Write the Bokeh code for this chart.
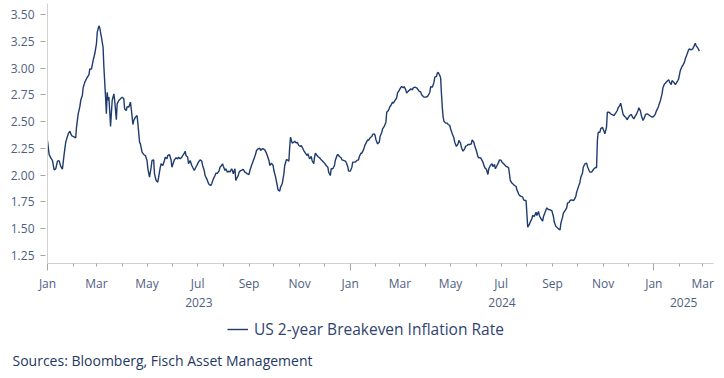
import pandas as pd
from bokeh.plotting import figure
from bokeh.layouts import column
from bokeh.models import (Range1d, FixedTicker, LinearAxis, NumeralTickFormatter,
                          Legend, LegendItem, Title, ColumnDataSource)
from bokeh.embed import file_html
from bokeh.resources import INLINE

# ---------------- data ----------------
dates = [
    # 2023
    "2023-01-01","2023-01-03","2023-01-05","2023-01-07","2023-01-09","2023-01-11","2023-01-13","2023-01-15",
    "2023-01-17","2023-01-19","2023-01-21","2023-01-23","2023-01-26","2023-01-28","2023-01-30",
    "2023-02-01","2023-02-04","2023-02-05","2023-02-07","2023-02-09","2023-02-10","2023-02-12","2023-02-13",
    "2023-02-15","2023-02-17","2023-02-20","2023-02-21","2023-02-23","2023-02-25","2023-02-27",
    "2023-03-01","2023-03-02","2023-03-04","2023-03-05","2023-03-07","2023-03-09","2023-03-10","2023-03-12",
    "2023-03-13","2023-03-14","2023-03-15","2023-03-16","2023-03-17","2023-03-18","2023-03-20","2023-03-22",
    "2023-03-23","2023-03-25","2023-03-26","2023-03-28","2023-03-30",
    "2023-04-01","2023-04-03","2023-04-04","2023-04-06","2023-04-07","2023-04-09","2023-04-11","2023-04-12",
    "2023-04-14","2023-04-15","2023-04-17","2023-04-19","2023-04-20","2023-04-22","2023-04-23","2023-04-25",
    "2023-04-27","2023-04-29",
    "2023-05-01","2023-05-02","2023-05-04","2023-05-06","2023-05-07","2023-05-09","2023-05-10","2023-05-12",
    "2023-05-14","2023-05-15","2023-05-17","2023-05-18","2023-05-20","2023-05-22","2023-05-23","2023-05-25",
    "2023-05-26","2023-05-28","2023-05-30","2023-05-31",
    "2023-06-02","2023-06-03","2023-06-05","2023-06-07","2023-06-08","2023-06-10","2023-06-12","2023-06-13",
    "2023-06-15","2023-06-16","2023-06-17","2023-06-19","2023-06-20","2023-06-22","2023-06-24","2023-06-25",
    "2023-06-27","2023-06-28","2023-06-30",
    "2023-07-02","2023-07-04","2023-07-06","2023-07-07","2023-07-09","2023-07-10","2023-07-12","2023-07-14",
    "2023-07-15","2023-07-17","2023-07-18","2023-07-20","2023-07-22","2023-07-23","2023-07-25","2023-07-27",
    "2023-07-28","2023-07-30","2023-07-31",
    "2023-08-01","2023-08-03","2023-08-04","2023-08-06","2023-08-08","2023-08-09","2023-08-11","2023-08-12",
    "2023-08-13","2023-08-15","2023-08-16","2023-08-19","2023-08-20","2023-08-22","2023-08-24","2023-08-25",
    "2023-08-27","2023-08-29","2023-08-30",
    "2023-09-01","2023-09-02","2023-09-04","2023-09-06","2023-09-07","2023-09-09","2023-09-10","2023-09-12",
    "2023-09-14","2023-09-15","2023-09-17","2023-09-18","2023-09-20","2023-09-22","2023-09-23","2023-09-25",
    "2023-09-26","2023-09-28","2023-09-30",
    "2023-10-01","2023-10-03","2023-10-05","2023-10-06","2023-10-08","2023-10-09","2023-10-11","2023-10-13",
    "2023-10-14","2023-10-16","2023-10-17","2023-10-19","2023-10-20","2023-10-21","2023-10-23","2023-10-25",
    "2023-10-26","2023-10-28","2023-10-29","2023-10-31",
    "2023-11-02","2023-11-03","2023-11-05","2023-11-06","2023-11-08","2023-11-10","2023-11-11","2023-11-13",
    "2023-11-15","2023-11-16","2023-11-18","2023-11-19","2023-11-20","2023-11-22","2023-11-23","2023-11-25",
    "2023-11-27","2023-11-28","2023-11-30",
    "2023-12-01","2023-12-03","2023-12-05","2023-12-06","2023-12-08","2023-12-09","2023-12-11","2023-12-13",
    "2023-12-14","2023-12-16","2023-12-17","2023-12-19","2023-12-21","2023-12-22","2023-12-24","2023-12-26",
    "2023-12-27","2023-12-29","2023-12-30",
    # 2024
    "2024-01-01","2024-01-03","2024-01-04","2024-01-06","2024-01-07","2024-01-09","2024-01-11","2024-01-12",
    "2024-01-14","2024-01-15","2024-01-17","2024-01-19","2024-01-20","2024-01-22","2024-01-23","2024-01-25",
    "2024-01-27","2024-01-28","2024-01-30","2024-01-31",
    "2024-02-01","2024-02-03","2024-02-05","2024-02-06","2024-02-08","2024-02-09","2024-02-11","2024-02-13",
    "2024-02-14","2024-02-16","2024-02-18","2024-02-19","2024-02-21","2024-02-22","2024-02-24","2024-02-26",
    "2024-02-27","2024-02-29",
    "2024-03-01","2024-03-03","2024-03-05","2024-03-06","2024-03-08","2024-03-09","2024-03-11","2024-03-13",
    "2024-03-14","2024-03-16","2024-03-17","2024-03-19","2024-03-21","2024-03-22","2024-03-24","2024-03-26",
    "2024-03-27","2024-03-29","2024-03-30",
    "2024-04-01","2024-04-03","2024-04-04","2024-04-06","2024-04-07","2024-04-09","2024-04-11","2024-04-12",
    "2024-04-14","2024-04-15","2024-04-16","2024-04-18","2024-04-19","2024-04-20","2024-04-21","2024-04-22",
    "2024-04-23","2024-04-25","2024-04-27","2024-04-28","2024-04-30",
    "2024-05-01","2024-05-03","2024-05-05","2024-05-06","2024-05-08","2024-05-10","2024-05-11","2024-05-13",
    "2024-05-14","2024-05-16","2024-05-18","2024-05-19","2024-05-21","2024-05-22","2024-05-24","2024-05-26",
    "2024-05-27","2024-05-29","2024-05-30",
    "2024-06-01","2024-06-03","2024-06-04","2024-06-06","2024-06-07","2024-06-09","2024-06-11","2024-06-12",
    "2024-06-13","2024-06-15","2024-06-16","2024-06-18","2024-06-20","2024-06-21","2024-06-23","2024-06-24",
    "2024-06-26","2024-06-28","2024-06-29",
    "2024-07-01","2024-07-02","2024-07-04","2024-07-06","2024-07-07","2024-07-09","2024-07-10","2024-07-12",
    "2024-07-14","2024-07-15","2024-07-17","2024-07-19","2024-07-20","2024-07-22","2024-07-23","2024-07-25",
    "2024-07-27","2024-07-28","2024-07-30","2024-07-31",
    "2024-08-01","2024-08-02","2024-08-04","2024-08-05","2024-08-07","2024-08-08","2024-08-10","2024-08-12",
    "2024-08-13","2024-08-15","2024-08-16","2024-08-18","2024-08-20","2024-08-21","2024-08-23","2024-08-25",
    "2024-08-26","2024-08-28","2024-08-29","2024-08-31",
    "2024-09-02","2024-09-03","2024-09-05","2024-09-06","2024-09-08","2024-09-10","2024-09-11","2024-09-13",
    "2024-09-14","2024-09-16","2024-09-18","2024-09-19","2024-09-21","2024-09-22","2024-09-24","2024-09-26",
    "2024-09-27","2024-09-29","2024-09-30",
    "2024-10-02","2024-10-04","2024-10-05","2024-10-07","2024-10-08","2024-10-10","2024-10-12","2024-10-13",
    "2024-10-15","2024-10-16","2024-10-18","2024-10-20","2024-10-21","2024-10-23","2024-10-24","2024-10-25",
    "2024-10-26","2024-10-28","2024-10-29","2024-10-31",
    "2024-11-02","2024-11-03","2024-11-05","2024-11-06","2024-11-08","2024-11-10","2024-11-11","2024-11-13",
    "2024-11-14","2024-11-16","2024-11-18","2024-11-19","2024-11-21","2024-11-22","2024-11-23","2024-11-25",
    "2024-11-27","2024-11-28","2024-11-30",
    "2024-12-01","2024-12-03","2024-12-05","2024-12-06","2024-12-08","2024-12-09","2024-12-11","2024-12-13",
    "2024-12-14","2024-12-16","2024-12-17","2024-12-19","2024-12-21","2024-12-22","2024-12-24","2024-12-25",
    "2024-12-27","2024-12-29","2024-12-30",
    # 2025
    "2025-01-01","2025-01-03","2025-01-04","2025-01-06","2025-01-07","2025-01-09","2025-01-11","2025-01-12",
    "2025-01-14","2025-01-15","2025-01-17","2025-01-19","2025-01-20","2025-01-22","2025-01-23","2025-01-25",
    "2025-01-27","2025-01-28","2025-01-30","2025-01-31",
    "2025-02-02","2025-02-04","2025-02-05","2025-02-07","2025-02-08","2025-02-10","2025-02-12","2025-02-13",
    "2025-02-15","2025-02-17","2025-02-18","2025-02-20","2025-02-21","2025-02-23","2025-02-25",
]

breakeven = [
    # 2023
    2.32,2.19,2.16,2.135,2.048,2.06,2.129,2.135,
    2.08,2.054,2.19,2.307,2.385,2.41,2.369,
    2.36,2.348,2.447,2.572,2.64,2.696,2.743,2.815,
    2.868,2.9,2.939,2.992,2.99,3.07,3.133,
    3.226,3.335,3.394,3.376,3.288,3.194,3.007,2.728,
    2.572,2.774,2.697,2.728,2.603,2.454,2.697,2.759,
    2.697,2.516,2.665,2.697,2.712,
    2.728,2.712,2.619,2.603,2.64,2.634,2.681,2.619,
    2.472,2.51,2.541,2.556,2.478,2.307,2.291,2.214,
    2.192,2.182,
    2.136,2.058,1.98,2.073,2.136,2.142,2.011,1.949,
    1.933,1.98,2.073,2.105,2.089,2.136,2.167,2.151,
    2.182,2.192,2.142,2.073,
    2.12,2.142,2.161,2.151,2.167,2.151,2.167,2.182,
    2.204,2.223,2.182,2.167,2.105,2.136,2.089,2.073,
    2.042,2.058,2.089,
    2.12,2.142,2.13,2.089,2.042,1.995,1.964,1.924,
    1.911,1.902,1.918,1.964,1.995,2.017,2.017,2.042,
    2.073,2.089,2.105,
    2.083,2.042,2.058,2.027,2.036,2.027,2.058,2.042,
    2.011,2.058,1.95,1.995,2.027,2.042,2.049,2.052,
    2.027,2.017,2.011,
    2.005,2.042,2.089,2.13,2.151,2.198,2.229,2.245,
    2.251,2.229,2.245,2.245,2.235,2.204,2.182,2.136,
    2.089,2.111,2.089,
    2.042,1.98,1.902,1.861,1.849,1.887,1.918,2.011,
    2.089,2.142,2.142,2.13,2.26,2.354,2.298,2.307,
    2.316,2.298,2.307,2.276,
    2.267,2.276,2.245,2.229,2.204,2.182,2.198,2.151,
    2.173,2.136,2.105,2.167,2.204,2.182,2.173,2.161,
    2.142,2.136,2.12,
    2.111,2.089,2.073,2.027,1.995,2.058,2.058,2.089,
    2.136,2.182,2.192,2.173,2.161,2.142,2.136,2.13,
    2.12,2.08,2.036,
    # 2024
    2.036,2.073,2.12,2.12,2.12,2.136,2.142,2.173,
    2.204,2.204,2.235,2.285,2.298,2.329,2.323,2.348,
    2.36,2.379,2.385,2.37,
    2.33,2.291,2.307,2.36,2.4,2.432,2.454,2.494,
    2.587,2.603,2.64,2.65,2.681,2.671,2.697,2.721,
    2.765,2.79,
    2.806,2.827,2.815,2.827,2.796,2.765,2.784,2.796,
    2.806,2.796,2.815,2.821,2.815,2.806,2.784,2.774,
    2.752,2.734,2.728,
    2.728,2.734,2.743,2.774,2.827,2.821,2.868,2.914,
    2.921,2.952,2.961,2.93,2.908,2.759,2.634,2.541,
    2.503,2.485,2.485,2.472,2.463,
    2.432,2.385,2.348,2.307,2.267,2.291,2.323,2.298,
    2.26,2.223,2.245,2.267,2.276,2.285,2.285,2.291,
    2.329,2.307,2.276,
    2.229,2.173,2.161,2.161,2.151,2.12,2.073,2.06,
    2.058,2.005,2.058,2.089,2.105,2.08,2.098,2.058,
    2.089,2.12,2.142,
    2.136,2.12,2.105,2.089,2.08,2.073,2.067,1.949,
    1.924,1.918,1.902,1.893,1.861,1.824,1.809,1.8,
    1.793,1.768,1.762,1.762,
    1.637,1.513,1.538,1.56,1.591,1.622,1.612,1.653,
    1.622,1.659,1.622,1.591,1.569,1.612,1.653,1.693,
    1.684,1.675,1.675,1.668,
    1.612,1.56,1.519,1.513,1.497,1.488,1.55,1.606,
    1.643,1.668,1.693,1.737,1.746,1.762,1.768,1.762,
    1.768,1.8,1.84,
    1.887,1.933,1.98,2.017,2.073,2.105,2.111,2.08,
    2.042,2.027,2.027,2.049,2.058,2.073,2.067,2.323,
    2.4,2.4,2.432,2.447,
    2.41,2.385,2.447,2.587,2.587,2.572,2.566,2.56,
    2.556,2.578,2.603,2.628,2.65,2.671,2.64,2.566,
    2.547,2.541,2.516,
    2.534,2.556,2.566,2.547,2.525,2.541,2.566,2.603,
    2.628,2.597,2.556,2.51,2.541,2.566,2.572,2.566,
    2.556,2.547,2.541,
    # 2025
    2.547,2.572,2.597,2.628,2.65,2.697,2.759,2.815,
    2.852,2.858,2.877,2.89,2.868,2.846,2.883,2.868,
    2.846,2.858,2.883,2.899,
    2.977,3.014,3.023,3.055,3.086,3.126,3.17,3.179,
    3.17,3.179,3.195,3.232,3.21,3.189,3.158,
]

series_name = "US 2-year Breakeven Inflation Rate"
source_note = "Sources: Bloomberg, Fisch Asset Management"

y_ticks = [1.25, 1.50, 1.75, 2.00, 2.25, 2.50, 2.75, 3.00, 3.25, 3.50]
month_ticks = ["2023-01-01","2023-03-01","2023-05-01","2023-07-01","2023-09-01","2023-11-01",
               "2024-01-01","2024-03-01","2024-05-01","2024-07-01","2024-09-01","2024-11-01",
               "2025-01-01","2025-03-01"]
month_labels = ["Jan","Mar","May","Jul","Sep","Nov",
                "Jan","Mar","May","Jul","Sep","Nov",
                "Jan","Mar"]
year_starts = ["2023-01-01","2024-01-01","2025-01-01"]
year_labels = ["2023","2024","2025"]
x_start, x_end = "2023-01-01", "2025-03-14"

# ---------------- helpers ----------------
def ms(d):
    return float(pd.Timestamp(d).value // 10**6)

FONT = "Open Sans"
LINE_COLOR = "#1F3B6E"
TICK_TEXT = "#4F607F"
AXIS_GRAY = "#D0D0D0"

src = ColumnDataSource(dict(x=pd.to_datetime(dates), y=breakeven))

# ---------------- main chart ----------------
p = figure(width=724, height=314, x_axis_type=None,
           x_range=Range1d(ms(x_start), ms(x_end)), y_range=Range1d(1.173, 3.603),
           output_backend="svg", toolbar_location=None,
           min_border_left=47, min_border_right=11, min_border_top=3, min_border_bottom=51)
p.title.visible = False
p.outline_line_color = None
p.ygrid.visible = False
p.background_fill_color = "white"
p.border_fill_color = "white"

ln = p.line("x", "y", source=src, line_color=LINE_COLOR, line_width=1.4)

# y axis
ya = p.yaxis[0]
ya.ticker = FixedTicker(ticks=y_ticks)
ya.formatter = NumeralTickFormatter(format="0.00")
ya.axis_line_color = AXIS_GRAY
ya.major_tick_line_color = "#A6A6A6"
ya.major_tick_out = 7
ya.major_tick_in = -2
ya.minor_tick_line_color = None
ya.major_label_standoff = 6
ya.major_label_text_font = FONT
ya.major_label_text_font_size = "12px"
ya.major_label_text_color = TICK_TEXT

# x axis 1: tick marks only (long ticks at year starts, short at month starts)
all_months = pd.date_range(x_start, x_end, freq="MS")
jan_ms = [ms(d) for d in year_starts]
other_ms = [ms(d) for d in all_months if d.month != 1]
ax1 = LinearAxis(ticker=FixedTicker(ticks=jan_ms, minor_ticks=other_ms),
                 axis_line_color=AXIS_GRAY, major_tick_line_color="#A6A6A6",
                 minor_tick_line_color="#A6A6A6", major_tick_out=7, major_tick_in=0,
                 minor_tick_out=3, minor_tick_in=0,
                 major_label_overrides={t: " " for t in jan_ms},
                 major_label_text_font_size="1px", major_label_standoff=0)
p.add_layout(ax1, "below")

# x axis 2: month labels
m_ms = [ms(d) for d in month_ticks]
ax2 = LinearAxis(ticker=FixedTicker(ticks=m_ms, minor_ticks=[]),
                 major_label_overrides=dict(zip(m_ms, month_labels)),
                 axis_line_color=None, major_tick_line_color=None, minor_tick_line_color=None,
                 major_tick_out=0, major_tick_in=0, major_label_standoff=0,
                 major_label_text_font=FONT, major_label_text_font_size="12px",
                 major_label_text_color=TICK_TEXT)
p.add_layout(ax2, "below")

# x axis 3: year labels centred on each year's visible span
bounds = [ms(d) for d in year_starts] + [ms(x_end)]
y_centres = [(max(bounds[i], ms(x_start)) + min(bounds[i + 1], ms(x_end))) / 2
             for i in range(len(year_labels))]
ax3 = LinearAxis(ticker=FixedTicker(ticks=y_centres, minor_ticks=[]),
                 major_label_overrides=dict(zip(y_centres, year_labels)),
                 axis_line_color=None, major_tick_line_color=None, minor_tick_line_color=None,
                 major_tick_out=0, major_tick_in=0, major_label_standoff=3,
                 major_label_text_font=FONT, major_label_text_font_size="12px",
                 major_label_text_color=TICK_TEXT)
p.add_layout(ax3, "below")

# ---------------- strip below: legend and source note ----------------
# (its frame is aligned with the chart's frame by the column layout)
p2 = figure(width=724, height=64, x_axis_type=None, y_axis_type=None,
            x_range=Range1d(0, 1), y_range=Range1d(0, 1),
            output_backend="svg", toolbar_location=None,
            min_border_left=47, min_border_right=11, min_border_top=0, min_border_bottom=0)
p2.title.visible = False
p2.outline_line_color = None
p2.background_fill_color = "white"
p2.border_fill_color = "white"
# same series; out of this strip's view, used only as the legend's glyph
ln2 = p2.line("x", "y", source=src, line_color=LINE_COLOR, line_width=1.4)

legend = Legend(items=[LegendItem(label=series_name, renderers=[ln2])],
                location=(180, 1), orientation="horizontal",
                label_text_font=FONT, label_text_font_size="15.5px", label_text_color="#2F4470",
                glyph_width=21, glyph_height=16, label_standoff=6, label_height=16,
                border_line_color=None, background_fill_alpha=0, padding=0, margin=0)
p2.add_layout(legend)

note = Title(text=source_note, align="left", offset=-35, vertical_align="middle",
             text_font=FONT, text_font_size="14px", text_font_style="normal",
             text_color="#1F3864", standoff=16)
p2.add_layout(note, "below")

layout = column(p, p2, spacing=0)
open("out.html", "w").write(file_html(layout, INLINE))
